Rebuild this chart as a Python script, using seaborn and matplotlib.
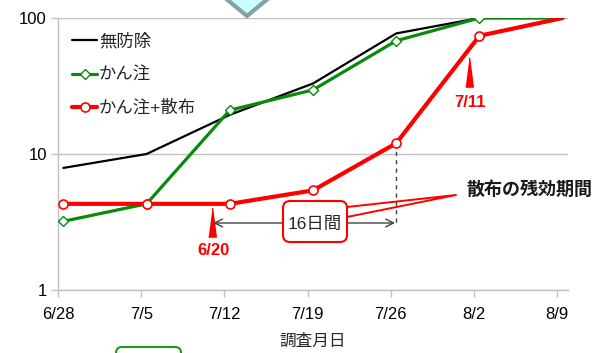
import numpy as np
import pandas as pd
import matplotlib
matplotlib.use("Agg")
import matplotlib.pyplot as plt
import matplotlib.transforms as mtransforms
from matplotlib.patches import Polygon, FancyBboxPatch
from matplotlib.lines import Line2D
import seaborn as sns

# ---- data ----
dates = ['6/28', '7/5', '7/12', '7/19', '7/26', '8/2', '8/9']
days = [0, 7, 14, 21, 28, 35, 42]
mubojo = [7.9, 10, 19.4, 33, 77, 100, 100]          # 無防除
kanchu = [3.2, 4.3, 21, 29.6, 68, 100, 100]          # かん注
kanchu_sanpu = [4.3, 4.3, 4.3, 5.4, 12, 74, 100]     # かん注+散布
series_names = ['無防除', 'かん注', 'かん注+散布']
ytick_vals = [1, 10, 100]
ytick_labels = ['1', '10', '100']

sns.set_theme(style="ticks")
plt.rcParams['font.family'] = ['Liberation Sans', 'Noto Sans CJK JP', 'DejaVu Sans']

W, H = 609, 353
fig = plt.figure(figsize=(W / 100, H / 100), dpi=100)
ax = fig.add_axes([58 / W, 1 - 290 / H, (568 - 58) / W, (290 - 18) / H])
# pixel transform (top-left origin)
px = mtransforms.Affine2D().scale(1 / W, -1 / H).translate(0, 1) + fig.transFigure

GREEN = '#0a8a0a'
RED = '#ff0000'
GRID = '#c0c0c0'

sns.lineplot(x=days, y=mubojo, ax=ax, color='black', lw=1.6, label=series_names[0], zorder=3)
sns.lineplot(x=days, y=kanchu, ax=ax, color=GREEN, lw=2.3, marker='D', markersize=5,
             markerfacecolor='white', markeredgecolor=GREEN, markeredgewidth=1.0,
             markevery=list(range(6)), label=series_names[1], zorder=4)
sns.lineplot(x=days, y=kanchu_sanpu, ax=ax, color=RED, lw=3.0, marker='o', markersize=6.5,
             markerfacecolor='white', markeredgecolor=RED, markeredgewidth=1.2,
             markevery=list(range(6)), label=series_names[2], zorder=5)

ax.set_yscale('log')
ax.set_ylim(1, 100)
ax.set_xlim(-0.45, 42.45)
ax.set_xticks(np.array(days) - 0.45)
ax.set_xticklabels(dates)
ax.set_yticks(ytick_vals)
ax.set_yticklabels(ytick_labels)
ax.yaxis.set_minor_locator(matplotlib.ticker.NullLocator())
ax.grid(axis='y', which='major', color=GRID, lw=1.0)
for s in ['top', 'right']:
    ax.spines[s].set_visible(False)
for s in ['left', 'bottom']:
    ax.spines[s].set_color(GRID)
    ax.spines[s].set_linewidth(1.0)
ax.tick_params(axis='both', which='major', length=5, width=1.0, color=GRID,
               labelsize=12, labelcolor='black')
ax.tick_params(axis='x', pad=7)
ax.tick_params(axis='y', pad=3)
ax.set_xlabel('調査月日', fontsize=12, labelpad=9)
ax.set_ylabel('')

leg = ax.legend(loc='upper left', bbox_to_anchor=(72 / W, 1 - 33 / H),
                bbox_transform=fig.transFigure, frameon=False, fontsize=12.5,
                handlelength=1.45, handletextpad=0.1, labelspacing=0.98,
                borderpad=0, borderaxespad=0)

# triangles
tri = [(-0.26, -1), (0.26, -1), (0, 1)]
ax.plot([12.5], [3.14], marker=tri, markersize=21, color=RED, ls='none', zorder=6)
ax.plot([34.1], [40.4], marker=tri, markersize=21, color=RED, ls='none', zorder=6)
ax.text(12.6, 1.94, '6/20', color=RED, fontsize=12, fontweight='bold', ha='center', va='center')
ax.text(34.2, 24.1, '7/11', color=RED, fontsize=12, fontweight='bold', ha='center', va='center')

# dashed vertical line and double arrow
ax.plot([28, 28], [kanchu_sanpu[4], 3.11], ls=(0, (3, 3)), color='#404040', lw=1.0, zorder=2)
ax.annotate('', xy=(12.6, 3.11), xytext=(27.9, 3.11),
            arrowprops=dict(arrowstyle='<->', color='#404040', lw=1.0,
                            shrinkA=0, shrinkB=0, mutation_scale=14), zorder=2)

# box 16日間
box = FancyBboxPatch((283, 201), 64, 41, boxstyle='round,pad=0,rounding_size=7',
                     transform=px, facecolor='white', edgecolor=RED, lw=1.5, zorder=7)
fig.add_artist(box)
fig.text(315, 224, '16日間', transform=px, fontsize=12.5, ha='center', va='center', zorder=8)

# callout wedge
fig.add_artist(Line2D([347, 456, 347], [207, 195, 217], transform=px, color=RED, lw=1.4, zorder=8))
fig.text(466, 190, '散布の残効期間', transform=px, fontsize=13, fontweight='bold',
         ha='left', va='center', color='#1a1a1a')

# top decoration (diamond)
dia = Polygon([(247, 16), (213, -12), (281, -12)], closed=True, transform=px,
              facecolor='#ccffff', edgecolor='#83a3a3', lw=3.0, zorder=9)
fig.add_artist(dia)

# bottom green box (partially visible)
gbox = FancyBboxPatch((116, 347), 65, 30, boxstyle='round,pad=0,rounding_size=6',
                      transform=px, facecolor='white', edgecolor='#1a9a1a', lw=1.5, zorder=9)
fig.add_artist(gbox)

fig.savefig('out.png', dpi=100)
